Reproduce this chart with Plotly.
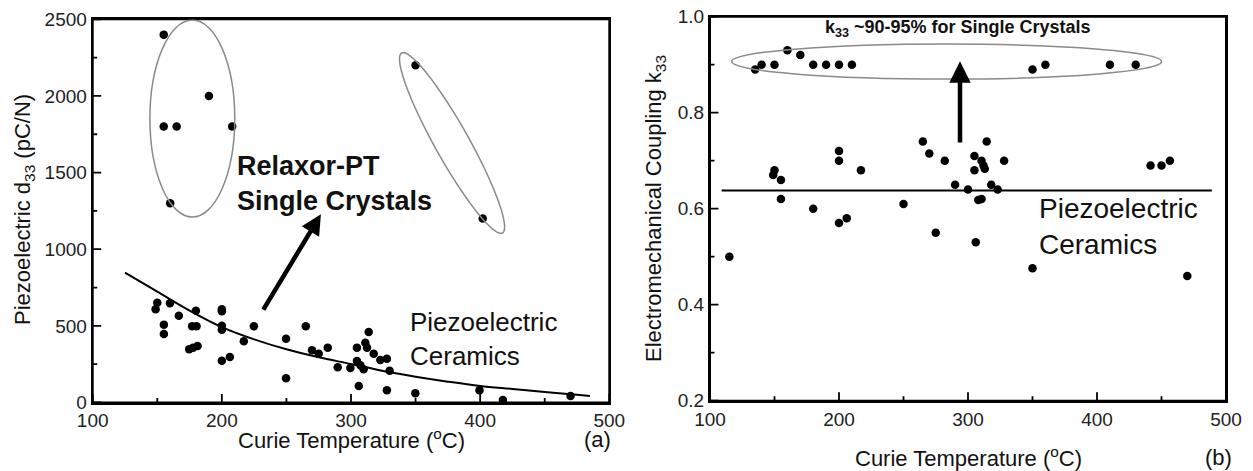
import numpy as np
import plotly.graph_objects as go

# ---------------- Panel (a): piezoelectric d33 vs Curie temperature ----------------
sc_a_T = [155, 190, 155, 165, 208, 160, 350, 402]
sc_a_d = [2400, 2000, 1800, 1800, 1800, 1300, 2200, 1200]

cer_a_T = [150, 148.7, 159.8, 166.7, 179.9, 155.1, 155.1, 177, 180.4, 174.7, 177.8, 181.2,
           200, 200, 200, 200, 200, 206.2, 217, 224.8, 249.7, 249.7, 265, 269.8, 275, 282,
           289.7, 299.5, 304.6, 304.6, 306, 307.3, 309.8, 311.1, 313.7, 312.4, 317.6,
           322.7, 327.8, 329.9, 327.8, 349.8, 399.5, 417.6, 470]
cer_a_d = [651, 608, 647, 566, 599, 508, 447, 497, 497, 347, 358, 369,
           608, 595, 501, 475, 273, 297, 399, 497, 416, 158, 497, 341, 318, 358,
           230, 225, 358, 271, 108, 243, 217, 390, 460, 358, 318,
           277, 286, 207, 80, 60, 80, 16, 42]

fit_a_T = [125, 150, 175, 200, 225, 250, 275, 300, 325, 350, 375, 400, 425, 450, 475, 485]
fit_a_d = [847, 723, 600, 492, 412, 347, 295, 251, 205, 168, 136, 108, 88, 68, 50, 42]

# ---------------- Panel (b): coupling k33 vs Curie temperature ----------------
sc_b_T = [135, 140, 150, 160, 170, 180, 190, 200, 210, 350, 360, 410, 430]
sc_b_k = [0.89, 0.90, 0.90, 0.93, 0.92, 0.90, 0.90, 0.90, 0.90, 0.89, 0.90, 0.90, 0.90]

cer_b_T = [115, 150, 149, 155, 155, 180, 200, 200, 200, 206, 217, 250, 265, 270, 275, 282,
           290, 300, 305, 305, 306, 308, 310.5, 310.5, 312, 313, 314.5, 318, 323, 328,
           350, 441.5, 450, 456.5, 470]
cer_b_k = [0.50, 0.68, 0.67, 0.66, 0.62, 0.60, 0.72, 0.70, 0.57, 0.58, 0.68, 0.61, 0.74, 0.715,
           0.55, 0.70, 0.65, 0.64, 0.71, 0.68, 0.53, 0.618, 0.62, 0.70, 0.69, 0.683, 0.74,
           0.65, 0.64, 0.70, 0.476, 0.69, 0.69, 0.70, 0.46]

avg_b_T = [109, 489]
avg_b_k = [0.638, 0.638]

x_major = [100, 200, 300, 400, 500]
x_minor = [150, 250, 350, 450]
ya_major = [0, 500, 1000, 1500, 2000, 2500]
ya_minor = [250, 750, 1250, 1750, 2250]
yb_major = [0.2, 0.4, 0.6, 0.8, 1.0]
yb_labels = ["0.2", "0.4", "0.6", "0.8", "1.0"]
yb_minor = [0.3, 0.5, 0.7, 0.9]

W, H = 1253, 471
FONT = "Liberation Sans, Arial, sans-serif"

# panel pixel boxes (left, right, top, bottom)
BOX_A = (92.7, 609.3, 19.3, 402.5)
BOX_B = (710.0, 1226.0, 16.7, 400.7)
XR = [100, 500]
YR_A = [0, 2500]
YR_B = [0.2, 1.0]

fig = go.Figure()


def tick_trace(box, xr, yr, xmaj, xmin, ymaj, ymin, xa, ya):
    """Inward tick marks along the bottom and left axes, as one line trace."""
    sxp = (box[1] - box[0]) / (xr[1] - xr[0])
    syp = (box[3] - box[2]) / (yr[1] - yr[0])
    xs, ys = [], []
    for vals, ln in [(xmaj, 8.5), (xmin, 4.5)]:
        for v in vals:
            xs += [v, v, None]
            ys += [yr[0], yr[0] + ln / syp, None]
    for vals, ln in [(ymaj, 8.5), (ymin, 4.5)]:
        for v in vals:
            xs += [xr[0], xr[0] + ln / sxp, None]
            ys += [v, v, None]
    return go.Scatter(x=xs, y=ys, mode="lines", line=dict(color="black", width=1.8),
                      xaxis=xa, yaxis=ya, hoverinfo="skip", connectgaps=False)


fig.add_trace(tick_trace(BOX_A, XR, YR_A, x_major, x_minor, ya_major, ya_minor, "x", "y"))
fig.add_trace(tick_trace(BOX_B, XR, YR_B, x_major, x_minor, yb_major, yb_minor, "x2", "y2"))

mk = dict(color="black", size=8.5)
fig.add_trace(go.Scatter(x=sc_a_T, y=sc_a_d, mode="markers", marker=mk, xaxis="x", yaxis="y"))
fig.add_trace(go.Scatter(x=cer_a_T, y=cer_a_d, mode="markers", marker=mk, xaxis="x", yaxis="y"))
fig.add_trace(go.Scatter(x=fit_a_T, y=fit_a_d, mode="lines", line=dict(color="black", width=2, shape="spline"),
                         xaxis="x", yaxis="y"))
fig.add_trace(go.Scatter(x=sc_b_T, y=sc_b_k, mode="markers", marker=mk, xaxis="x2", yaxis="y2"))
fig.add_trace(go.Scatter(x=cer_b_T, y=cer_b_k, mode="markers", marker=mk, xaxis="x2", yaxis="y2"))
fig.add_trace(go.Scatter(x=avg_b_T, y=avg_b_k, mode="lines", line=dict(color="black", width=2),
                         xaxis="x2", yaxis="y2"))


def ax(domain, rng, tickvals, anchor, ticktext=None):
    d = dict(
        domain=domain, range=rng, anchor=anchor, automargin=False,
        showline=True, linecolor="black", linewidth=2, mirror=True,
        ticks="", tickmode="array", tickvals=tickvals,
        showgrid=False, zeroline=False, fixedrange=True,
        tickfont=dict(family=FONT, size=19, color="#222"),
    )
    if ticktext is not None:
        d["ticktext"] = ticktext
    return d


fig.update_layout(
    template="none",
    width=W, height=H, autosize=False,
    margin=dict(l=0, r=0, t=0, b=0, pad=0),
    paper_bgcolor="white", plot_bgcolor="white",
    showlegend=False,
    font=dict(family=FONT, color="#111"),
    xaxis=ax([BOX_A[0] / W, BOX_A[1] / W], XR, x_major, "y"),
    yaxis=ax([1 - BOX_A[3] / H, 1 - BOX_A[2] / H], YR_A, ya_major, "x"),
    xaxis2=ax([BOX_B[0] / W, BOX_B[1] / W], XR, x_major, "y2"),
    yaxis2=ax([1 - BOX_B[3] / H, 1 - BOX_B[2] / H], YR_B, yb_major, "x2", yb_labels),
)

# ---------------- frames, ellipses ----------------
ell_color = "#8a8a8a"
shapes = []
for xr, yr in [("x", "y"), ("x2", "y2")]:
    shapes.append(dict(type="rect", xref=xr + " domain", yref=yr + " domain", x0=0, x1=1, y0=0, y1=1,
                       line=dict(color="black", width=2), layer="above"))

shapes.append(dict(type="circle", xref="x", yref="y", x0=144.3, x1=210, y0=1210, y1=2495,
                   line=dict(color=ell_color, width=1.5)))
shapes.append(dict(type="circle", xref="x2", yref="y2", x0=116.8, x1=450.1, y0=0.870, y1=0.943,
                   line=dict(color=ell_color, width=1.5)))

# rotated ellipse in panel (a), built in pixel-proportional space
sx = (BOX_A[1] - BOX_A[0]) / 400.0      # px per degC
sy = (BOX_A[3] - BOX_A[2]) / 2500.0     # px per pC/N
e_T0, e_d0 = 339.2, 2280                # end 1 of major axis
e_T1, e_d1 = 417.3, 1106                # end 2 of major axis
semi_minor_px = 17.0
cx, cy = (e_T0 + e_T1) / 2, (e_d0 + e_d1) / 2
vx, vy = (e_T1 - e_T0) * sx / 2, (e_d1 - e_d0) * sy / 2
a = np.hypot(vx, vy)
ux, uy = vx / a, vy / a
nx, ny = -uy, ux
t = np.linspace(0, 2 * np.pi, 121)
pxs = a * np.cos(t) * ux + semi_minor_px * np.sin(t) * nx
pys = a * np.cos(t) * uy + semi_minor_px * np.sin(t) * ny
Ts = cx + pxs / sx
Ds = cy + pys / sy
path = "M " + " L ".join(f"{x:.3f},{y:.3f}" for x, y in zip(Ts, Ds)) + " Z"
shapes.append(dict(type="path", xref="x", yref="y", path=path, line=dict(color=ell_color, width=1.5)))

fig.update_layout(shapes=shapes)

# ---------------- annotations ----------------
ann = []
ann.append(dict(xref="x", yref="y", axref="x", ayref="y", x=276.7, y=1228, ax=231.4, ay=596,
                showarrow=True, arrowhead=2, arrowsize=0.9, arrowwidth=4.5, arrowcolor="black", text=""))
ann.append(dict(xref="x2", yref="y2", axref="x2", ayref="y2", x=293.8, y=0.907, ax=293.8, ay=0.735,
                showarrow=True, arrowhead=2, arrowsize=0.95, arrowwidth=4.5, arrowcolor="black", text=""))

ann.append(dict(xref="x", yref="y", x=210, y=1430, xanchor="left", yanchor="middle", align="left",
                showarrow=False, text="<b>Relaxor-PT<br>Single Crystals</b>",
                font=dict(family=FONT, size=27, color="#111")))
ann.append(dict(xref="x", yref="y", x=344.2, y=414, xanchor="left", yanchor="middle", align="left",
                showarrow=False, text="Piezoelectric<br>Ceramics",
                font=dict(family=FONT, size=26, color="#111")))
ann.append(dict(xref="x2", yref="y2", x=353.3, y=0.562, xanchor="left", yanchor="middle", align="left",
                showarrow=False, text="Piezoelectric<br>Ceramics",
                font=dict(family=FONT, size=28, color="#111")))
ann.append(dict(xref="x2", yref="y2", x=291.9, y=0.976, xanchor="center", yanchor="middle",
                showarrow=False, text="<b>k<sub>33</sub> ~90-95% for Single Crystals</b>",
                font=dict(family=FONT, size=18, color="#111")))


def pp(px, py):
    return px / W, 1 - py / H


for (px, py, txt, rot) in [
    (351, 439, "Curie Temperature (<sup>o</sup>C)", 0),
    (968, 457, "Curie Temperature (<sup>o</sup>C)", 0),
    (597, 439, "(a)", 0),
    (1218, 457, "(b)", 0),
    (24, 210, "Piezoelectric d<sub>33</sub> (pC/N)", -90),
    (655, 209, "Electromechanical Coupling k<sub>33</sub>", -90),
]:
    xp, yp = pp(px, py)
    ann.append(dict(xref="paper", yref="paper", x=xp, y=yp, xanchor="center", yanchor="middle",
                    showarrow=False, text=txt, textangle=rot,
                    font=dict(family=FONT, size=22, color="#111")))

fig.update_layout(annotations=ann)

fig.write_html("out.html")
